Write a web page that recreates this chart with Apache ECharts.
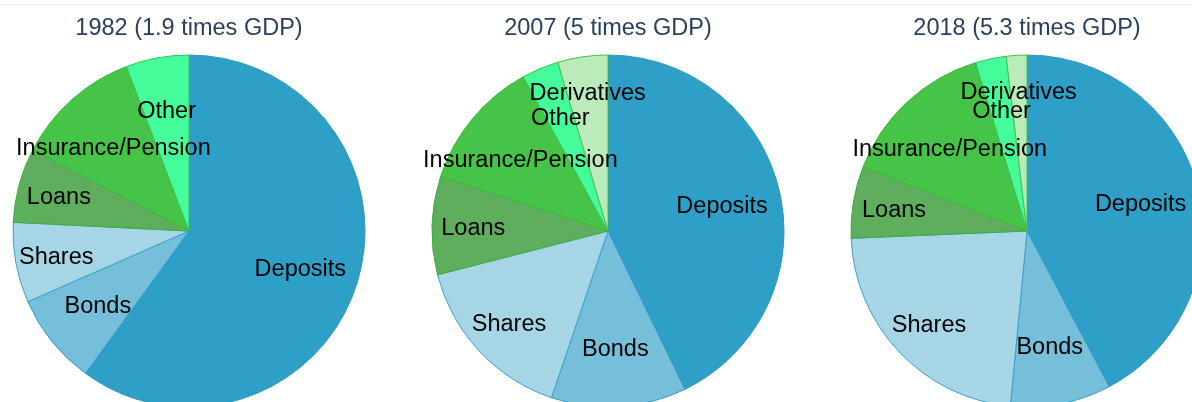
<!DOCTYPE html>
<html>
<head>
<meta charset="utf-8">
<script src="https://cdn.jsdelivr.net/npm/echarts@6/dist/echarts.min.js"></script>
<style>
  html, body { margin: 0; padding: 0; background: #ffffff; }
  #chart { width: 1192px; height: 402px; }
</style>
</head>
<body>
<div id="chart"></div>
<script>
// Financial assets by type, as a share of the total (values in % of GDP)
const categories = ['Deposits', 'Bonds', 'Shares', 'Loans', 'Insurance/Pension', 'Other', 'Derivatives'];
const titles = ['1982 (1.9 times GDP)', '2007 (5 times GDP)', '2018 (5.3 times GDP)'];
const values1982 = [114, 16, 14, 13, 22, 11, null];
const values2007 = [214, 62, 79, 45, 60, 17, 23];
const values2018 = [224, 49, 121, 35, 76, 15, 10];

// Slice styling
const fillColors = {
  'Deposits': '#2ea0c8',
  'Bonds': '#76bfdb',
  'Shares': '#a6d5e6',
  'Loans': '#5eae5e',
  'Insurance/Pension': '#46c448',
  'Other': '#45fc9b',
  'Derivatives': '#bbebbb'
};
const borderColors = {
  'Deposits': '#2b98c2',
  'Bonds': '#2f9cc6',
  'Shares': '#3aa2cb',
  'Loans': '#3cae3c',
  'Insurance/Pension': '#3cb83c',
  'Other': '#3cc05a',
  'Derivatives': '#46c048'
};
// Radial position of each inside label, as a fraction of the pie radius
const labelRadius = {
  'Deposits': 0.665,
  'Bonds': 0.665,
  'Shares': 0.767,
  'Loans': 0.766,
  'Insurance/Pension': 0.646,
  'Other': 0.703,
  'Derivatives': 0.80
};

const seriesValues = [values1982, values2007, values2018];
const centersX = [189, 608, 1027];
const centerY = 231;
const pieRadius = 176;
const FONT = '"Liberation Sans", Arial, Helvetica, sans-serif';

const chart = echarts.init(document.getElementById('chart'), null, { renderer: 'canvas' });

function buildData(values) {
  const out = [];
  values.forEach(function (v, i) {
    if (v == null) return;
    const name = categories[i];
    out.push({
      name: name,
      value: v,
      itemStyle: { color: fillColors[name], borderColor: borderColors[name], borderWidth: 1 }
    });
  });
  return out;
}

// Put each label on its slice bisector, at the label's own radial fraction
function placeLabel(params) {
  const data = chart.getModel().getSeriesByIndex(params.seriesIndex).getData();
  const layout = data.getItemLayout(params.dataIndex);
  const name = data.getName(params.dataIndex);
  const mid = (layout.startAngle + layout.endAngle) / 2;
  const f = labelRadius[name] != null ? labelRadius[name] : 0.6;
  return {
    x: layout.cx + Math.cos(mid) * layout.r * f,
    y: layout.cy + Math.sin(mid) * layout.r * f + 2,
    align: 'center',
    verticalAlign: 'middle'
  };
}

const option = {
  animation: false,
  backgroundColor: '#ffffff',
  title: titles.map(function (t, i) {
    return {
      text: t,
      left: centersX[i],
      top: 16,
      textAlign: 'center',
      padding: 0,
      textStyle: { fontFamily: FONT, fontSize: 23.5, fontWeight: 'normal', color: '#2a3f5f', lineHeight: 26 }
    };
  }),
  graphic: [{
    type: 'line',
    shape: { x1: 0, y1: 4.5, x2: 1192, y2: 4.5 },
    style: { stroke: '#e8eff2', lineWidth: 1 },
    silent: true
  }],
  series: seriesValues.map(function (vals, i) {
    return {
      type: 'pie',
      center: [centersX[i], centerY],
      radius: [0, pieRadius],
      startAngle: 90,
      clockwise: true,
      avoidLabelOverlap: false,
      silent: true,
      label: {
        show: true,
        position: 'inside',
        formatter: '{b}',
        color: '#000000',
        fontFamily: FONT,
        fontSize: 23.5
      },
      labelLine: { show: false },
      labelLayout: placeLabel,
      data: buildData(vals)
    };
  })
};

chart.setOption(option);
</script>
</body>
</html>
